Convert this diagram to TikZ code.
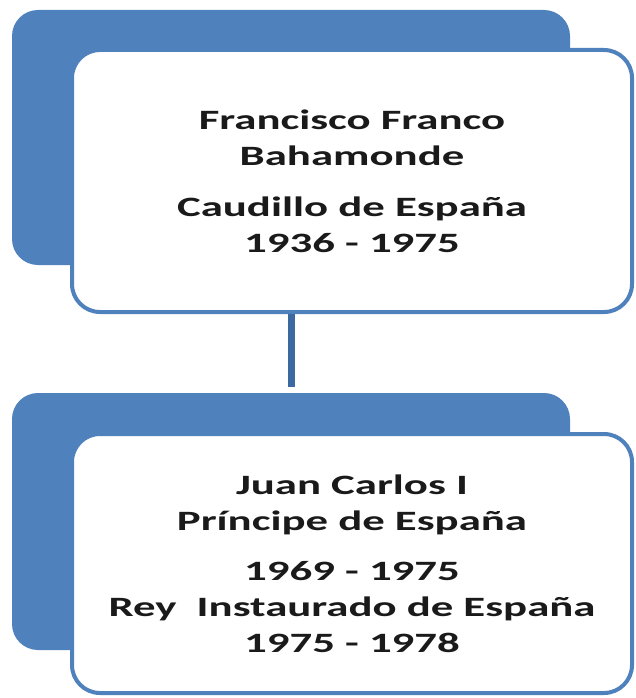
\documentclass[tikz,border=0pt]{standalone}
\usepackage{fontspec}
\setmainfont{Carlito}[FakeStretch=1.6]
\usetikzlibrary{positioning}
\definecolor{orgblue}{HTML}{4F81BD}
\definecolor{linkblue}{HTML}{3D69A3}
\definecolor{txtdark}{HTML}{1A1A1A}
\tikzset{
  backbox/.style={rectangle, rounded corners=26pt, fill=orgblue, minimum width=558pt, inner sep=0pt},
  namebox/.style={rectangle, rounded corners=28pt, draw=orgblue, line width=4pt, fill=white,
    minimum width=560pt, align=center, text=txtdark, font=\bfseries\fontsize{28}{36}\selectfont},
  link/.style={draw=linkblue, line width=7pt, shorten >=6pt}
}
\begin{document}
\begin{tikzpicture}[x=1pt,y=-1pt]
    \useasboundingbox (0,0) rectangle (635,698);
    % Franco
    \node[backbox, minimum height=255pt] (francoback) at (291,137.5) {};
    \node[namebox, minimum height=262pt] (franco) at (352,181) {Francisco Franco\\ Bahamonde\\[15pt] Caudillo de España\\ 1936 - 1975};
    % Juan Carlos
    \node[backbox, minimum height=257pt] (juanback) at (291,521.5) {};
    \node[namebox, minimum height=259pt] (juan) at (352,563.5) {Juan Carlos I\\ Príncipe de España\\[14pt] 1969 - 1975\\ Rey\ \ Instaurado de España\\ 1975 - 1978};
    \draw[link] (francoback |- franco.south) -- (juanback.north);
\end{tikzpicture}
\end{document}
